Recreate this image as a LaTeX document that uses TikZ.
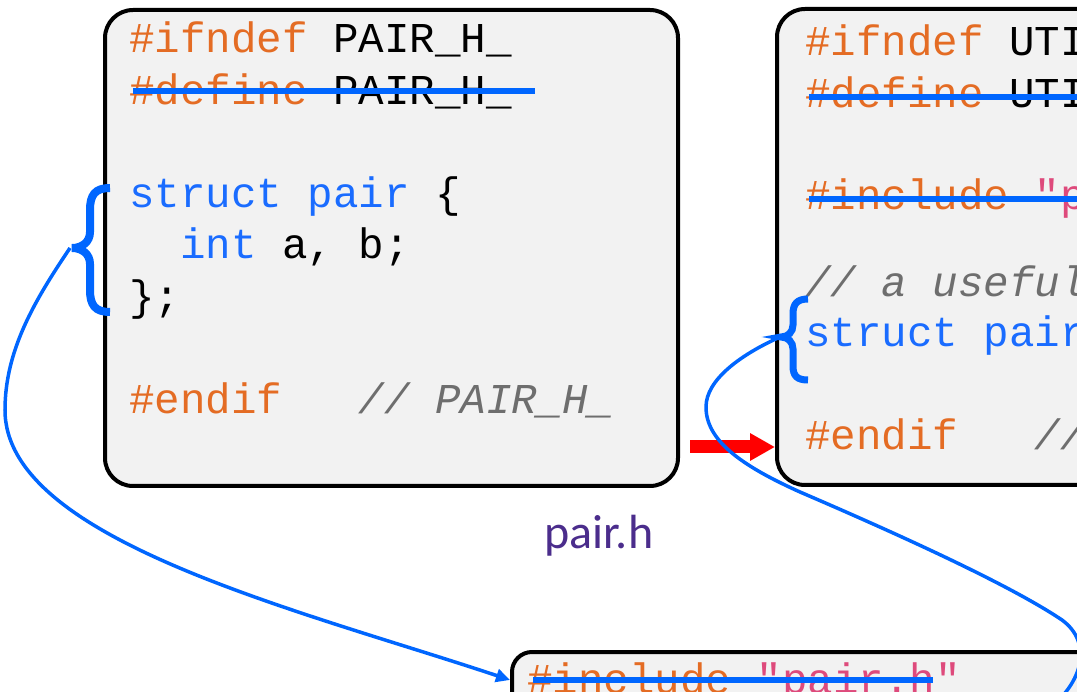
\documentclass[tikz,border=0pt]{standalone}
\usepackage{fontspec}
\usepackage{tikz}
\usetikzlibrary{arrows.meta}
\usepackage{xcolor}
\newfontfamily\codefont{Liberation Mono}
\newfontfamily\labelfont{Carlito}
\definecolor{preorange}{HTML}{E46C24}
\definecolor{kwblue}{HTML}{1A6CFF}
\definecolor{markblue}{HTML}{0066FF}
\definecolor{cmtgray}{HTML}{6E6E6E}
\definecolor{strpink}{HTML}{DE4A7C}
\definecolor{boxgray}{HTML}{F2F2F2}
\definecolor{labelpurple}{HTML}{4B2D8C}
\def\prep#1{\textcolor{preorange}{#1}}
\def\kw#1{\textcolor{kwblue}{#1}}
\def\cmt#1{{\itshape\color{cmtgray}#1}}
\def\strg#1{\textcolor{strpink}{#1}}

\begin{document}
\begin{tikzpicture}[x=1pt,y=-1pt,
  codebox/.style={draw, line width=4pt, fill=boxgray, rounded corners=28pt, inner sep=0pt},
  code/.style={anchor=base west, inner sep=0pt, font=\codefont\fontsize{42.5pt}{51pt}\selectfont},
  strike/.style={markblue, line width=6pt},
  bracemark/.style={markblue, line width=8pt},
  link/.style={markblue, line width=3.5pt, -{Triangle[length=14pt,width=13pt]}},
  linkline/.style={markblue, line width=3.5pt},
  bigarrow/.style={red, line width=13pt, -{Triangle[length=25pt,width=26pt]}}]
\useasboundingbox (0,0) rectangle (1077,692);
\clip (0,0) rectangle (1077,692);

% the three files
\node [codebox, minimum width=573pt, minimum height=476pt] (pairbox) at (391.5,248) {};
\node [codebox, minimum width=623pt, minimum height=476pt] (utilbox) at (1088.5,247) {};
\node [codebox, rounded corners=20pt, minimum width=700pt, minimum height=200pt] (inclbox) at (862,752) {};

% pair.h
\node [code] (a1) at (129,53) {\prep{\#ifndef} PAIR\_H\_};
\node [code] (a2) at (129,104.5) {\prep{\#define} PAIR\_H\_};
\node [code] (a3) at (129,207.5) {\kw{struct pair} \{};
\node [code] (a4) at (129,259) {\ \ \kw{int} a, b;};
\node [code] (a5) at (129,310.5) {\};};
\node [code] (a6) at (129,413.5) {\prep{\#endif}\ \ \ \cmt{// PAIR\_H\_}};
\node [labelpurple, anchor=base, font=\labelfont\fontsize{48pt}{58pt}\selectfont] (pairname) at (599,548) {pair.h};

% util.h
\node [code] (b1) at (805,56) {\prep{\#ifndef} UTI};
\node [code] (b2) at (805,108) {\prep{\#define} UTI};
\node [code] (b3) at (805,210) {\prep{\#include} \strg{"p}};
\node [code] (b4) at (805,297) {\cmt{// a useful}};
\node [code] (b5) at (805,347) {\kw{struct pair}};
\node [code] (b6) at (805,450) {\prep{\#endif}\ \ \ \cmt{//}};

% the file that includes both
\node [code] (c1) at (527,693) {\prep{\#include} \strg{"pair.h"}};

% struck out lines
\draw [strike] ([shift={(4,-13)}]a2.base west) -- ++(402,0);
\draw [strike] ([shift={(4,-11)}]b2.base west) -- ++(300,0);
\draw [strike] ([shift={(4,-11)}]b3.base west) -- ++(300,0);
\draw [strike] ([shift={(6,-13)}]c1.base west) -- ++(400,0);

% braces
\draw [bracemark] (110,188) .. controls (95,188) and (90,195) .. (90,210) -- (90,232)
  .. controls (90,242) and (82,248) .. (72,248) .. controls (82,248) and (90,254) .. (90,264)
  -- (90,290) .. controls (90,305) and (95,312) .. (110,312);
\draw [bracemark, line width=7pt] (808,299) .. controls (797,299) and (793,304) .. (793,314) -- (793,325)
  .. controls (793,332) and (788,337) .. (781,337) .. controls (788,337) and (793,342) .. (793,349)
  -- (793,366) .. controls (793,376) and (797,380) .. (808,380);
\coordinate (tipA) at (70,248);
\coordinate (tipB) at (780,337);
\coordinate (inclin) at (510,680);
\coordinate (inclout) at (1045,712);

% red arrow between the files
\coordinate (arrowA) at (690,447);
\draw [bigarrow] (arrowA) -- (utilbox.west |- arrowA);

% where the struct ends up
\draw [link] (tipA) .. controls (35,300) and (5,350) .. (5,410)
  .. controls (5,540) and (300,610) .. (inclin);
\draw [linkline] (tipB) .. controls (740,355) and (706,380) .. (706,407)
  .. controls (706,440) and (740,465) .. (800,492)
  .. controls (900,535) and (1010,585) .. (1062,620)
  .. controls (1092,642) and (1085,682) .. (inclout);
\end{tikzpicture}
\end{document}
